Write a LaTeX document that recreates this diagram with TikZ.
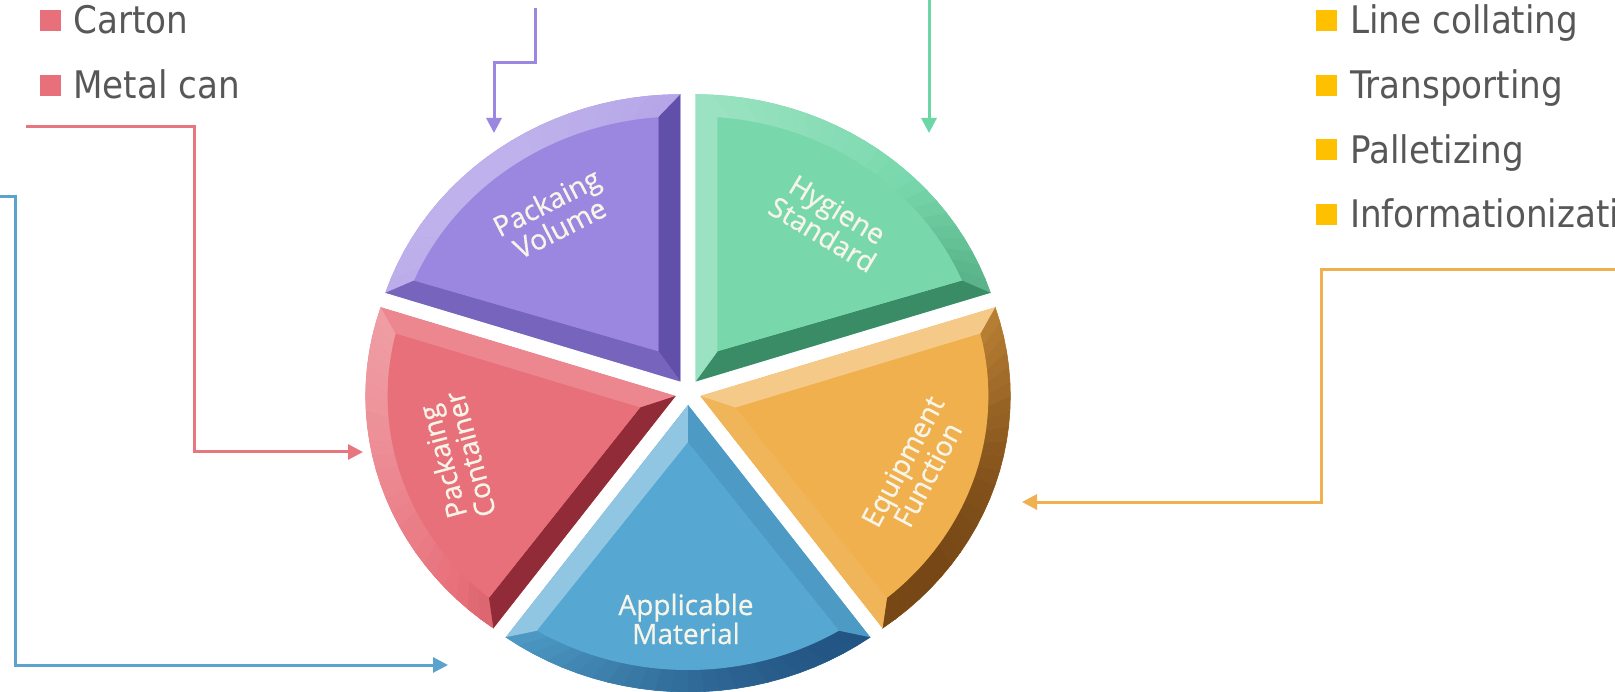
\documentclass[tikz,border=0pt]{standalone}
\usepackage{fontspec}
\setmainfont{DejaVu Sans Condensed}
\newfontfamily\wedgefont[FakeBold=0.7]{Open Sans}
\usetikzlibrary{arrows.meta}
\definecolor{txt}{HTML}{575757}
\definecolor{bred}{HTML}{E8707A}
\definecolor{byel}{HTML}{FFC000}
\definecolor{lred}{HTML}{E8767F}
\definecolor{lblue}{HTML}{5BA3CC}
\definecolor{lpurp}{HTML}{9B86E0}
\definecolor{lgreen}{HTML}{6DD6A6}
\definecolor{lorange}{HTML}{F0B050}
\definecolor{pv}{HTML}{9C87E0}
\definecolor{gr}{HTML}{78D8AC}
\definecolor{rd}{HTML}{E8707A}
\definecolor{bl}{HTML}{56A8D2}
\definecolor{orw}{HTML}{F0B04E}
\definecolor{pvd}{HTML}{40318A}
\definecolor{grd}{HTML}{2A7A54}
\definecolor{rdd}{HTML}{85232F}
\definecolor{bld}{HTML}{1C4A7A}
\definecolor{orwd}{HTML}{6A3C10}
\definecolor{wtxt}{HTML}{F7F4E8}
\begin{document}
\begin{tikzpicture}[x=1pt,y=1pt,
  item/.style={anchor=base west, text=txt, font=\fontsize{38}{44}\selectfont, inner sep=0pt},
  bullet/.style={minimum size=21pt, inner sep=0pt, outer sep=0pt},
  conn/.style={line width=3pt, -{Triangle[length=15pt,width=15pt]}},
  lab/.style={text=wtxt, font=\wedgefont\fontsize{28}{25}\selectfont, align=center, inner sep=0pt}
]
\useasboundingbox (0,0) rectangle (1615,-692);
\clip (0,0) rectangle (1615,-692);

% ---------- pie ----------
\foreach \aone/\base in {90/pv,18/gr,162/rd,234/bl,306/orw}{
  \pgfmathsetmacro\am{\aone+36}
  \pgfmathsetmacro\atwo{\aone+72}
  \pgfmathsetmacro\Ax{688+13*cos(\am)}
  \pgfmathsetmacro\Ay{-392+13*sin(\am)}
  \pgfmathsetmacro\Bx{\Ax+37.4*cos(\am)}
  \pgfmathsetmacro\By{\Ay+37.4*sin(\am)}
  \pgfmathsetmacro\ia{\aone+4.4}
  \pgfmathsetmacro\ib{\atwo-4.4}
  \fill[\base] (\Ax,\Ay) -- ({\Ax+310*cos(\aone)},{\Ay+287*sin(\aone)})
     arc[start angle=\aone,end angle=\atwo,x radius=310,y radius=287] -- cycle;
  % arc bevel
  \foreach \k in {0,...,23}{
    \pgfmathsetmacro\ta{\aone+3*\k}
    \pgfmathsetmacro\tb{\ta+3}
    \pgfmathsetmacro\sa{\ia+(\ta-\aone)*(\ib-\ia)/72}
    \pgfmathsetmacro\sb{\ia+(\tb-\aone)*(\ib-\ia)/72}
    \pgfmathsetmacro\L{cos(\ta+1.5-135)}
    \pgfmathtruncatemacro\W{100-35*max(\L,0)}
    \pgfmathtruncatemacro\D{100-90*max(-\L,0)}
    \colorlet{shA}{\base!\W!white}\colorlet{shB}{shA!\D!\base d}
    \fill[shB, draw=shB, line width=0.5pt] ({\Ax+310*cos(\ta)},{\Ay+287*sin(\ta)})
      -- ({\Ax+310*cos(\tb)},{\Ay+287*sin(\tb)})
      -- ({\Ax+288*cos(\sb)},{\Ay+265*sin(\sb)})
      -- ({\Ax+288*cos(\sa)},{\Ay+265*sin(\sa)}) -- cycle;
  }
  % straight edge at a1
  \pgfmathsetmacro\L{cos(\aone-90-135)}
  \pgfmathtruncatemacro\W{100-35*max(\L,0)}
  \pgfmathtruncatemacro\D{100-90*max(-\L,0)}
  \colorlet{shA}{\base!\W!white}\colorlet{shB}{shA!\D!\base d}
  \fill[shB] (\Ax,\Ay) -- ({\Ax+310*cos(\aone)},{\Ay+287*sin(\aone)})
     -- ({\Ax+288*cos(\ia)},{\Ay+265*sin(\ia)}) -- (\Bx,\By) -- cycle;
  % straight edge at a2
  \pgfmathsetmacro\L{cos(\atwo+90-135)}
  \pgfmathtruncatemacro\W{100-35*max(\L,0)}
  \pgfmathtruncatemacro\D{100-90*max(-\L,0)}
  \colorlet{shA}{\base!\W!white}\colorlet{shB}{shA!\D!\base d}
  \fill[shB] (\Ax,\Ay) -- ({\Ax+310*cos(\atwo)},{\Ay+287*sin(\atwo)})
     -- ({\Ax+288*cos(\ib)},{\Ay+265*sin(\ib)}) -- (\Bx,\By) -- cycle;
  % face
  \fill[\base] (\Bx,\By) -- ({\Ax+288*cos(\ia)},{\Ay+265*sin(\ia)})
     arc[start angle=\ia,end angle=\ib,x radius=288,y radius=265] -- cycle;
}

% wedge labels
\node[lab, rotate=27]  (tPV) at (553,-215) {Packaing\\Volume};
\node[lab, rotate=-31] (tHS) at (830,-222) {Hygiene\\Standard};
\node[lab, rotate=105] (tPC) at (456,-458) {Packaing\\Container};
\node[lab]             (tAM) at (686,-619) {Applicable\\Material};
\node[lab, rotate=62]  (tEF) at (915,-468) {Equipment\\Function};

% ---------- bullet lists ----------
\node[bullet, fill=bred] (b1) at (50,-20.5) {};
\node[bullet, fill=bred] (b2) at (50,-85.5) {};
\node[item] (t1) at (73,-34) {Carton};
\node[item] (t2) at (73,-99) {Metal can};

\node[bullet, fill=byel] (b3) at (1326.5,-20.5) {};
\node[bullet, fill=byel] (b4) at (1326.5,-85.5) {};
\node[bullet, fill=byel] (b5) at (1326.5,-149.5) {};
\node[bullet, fill=byel] (b6) at (1326.5,-214.5) {};
\node[item] (t3) at (1350,-34) {Line collating};
\node[item] (t4) at (1350,-99) {Transporting};
\node[item] (t5) at (1350,-163.5) {Palletizing};
\node[item] (t6) at (1350,-228) {Informationization};

% ---------- connectors ----------
\coordinate (pvS) at (535,-8);    \coordinate (pvT) at (494,-133);
\coordinate (grS) at (929,5);     \coordinate (grT) at (929,-133);
\coordinate (rdS) at (26,-127);   \coordinate (rdT) at (363,-452);
\coordinate (blS) at (-5,-197);   \coordinate (blT) at (448,-665);
\coordinate (orS) at (1620,-270); \coordinate (orT) at (1022,-502);

\draw[conn, lpurp]   (pvS) -- ++(0,-55) -| (pvT);
\draw[conn, lgreen]  (grS) -- (grT);
\draw[conn, lred]    (rdS) -- ++(168,0) |- (rdT);
\draw[conn, lblue]   (blS) -- ++(20,0) |- (blT);
\draw[conn, lorange] (orS) -- ++(-299,0) |- (orT);
\end{tikzpicture}
\end{document}
